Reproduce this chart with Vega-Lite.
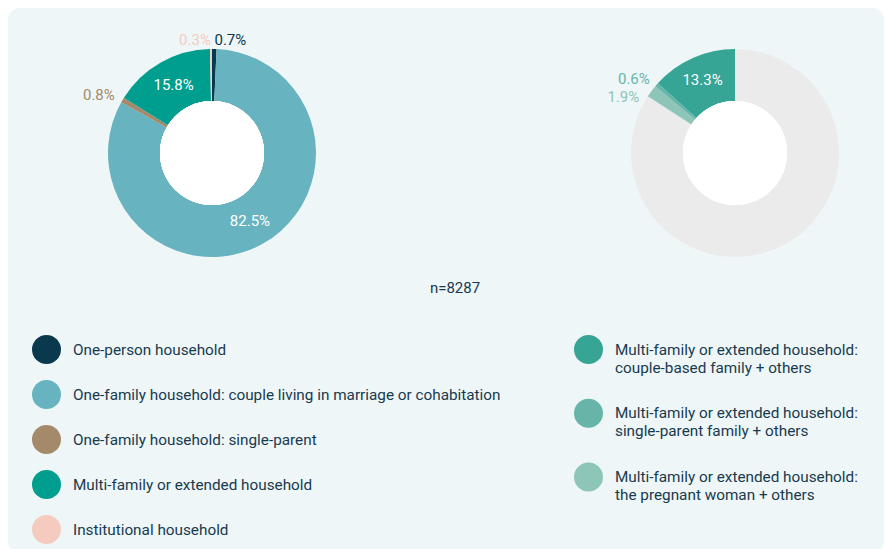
{
  "$schema": "https://vega.github.io/schema/vega-lite/v6.json",
  "autosize": {"type": "none"},
  "padding": {"left": 8, "top": 8, "right": 2, "bottom": 0},
  "width": 876,
  "height": 545,
  "background": "white",
  "config": {
    "view": {"fill": "#eef6f8", "stroke": null, "cornerRadius": 12},
    "font": "Roboto",
    "style": {"guide-label": {"lineHeight": 18}},
    "legend": {
      "orient": "none",
      "title": null,
      "padding": 0,
      "symbolType": "circle",
      "symbolSize": 841,
      "symbolStrokeWidth": 0,
      "symbolOpacity": 1,
      "labelFont": "Roboto",
      "labelFontSize": 15.3,
      "labelColor": "#183a4e",
      "labelLimit": 600
    }
  },
  "title": {
    "text": "n=8287",
    "orient": "top",
    "anchor": "middle",
    "frame": "group",
    "baseline": "middle",
    "offset": 0,
    "dy": 295,
    "dx": 9,
    "font": "Roboto",
    "fontSize": 15,
    "fontWeight": "normal",
    "color": "#183a4e"
  },
  "data": {
    "values": [
      {"panel": "All households", "category": "One-person household", "share": 0.007, "order": 1},
      {"panel": "All households", "category": "One-family household: couple living in marriage or cohabitation", "share": 0.825, "order": 2},
      {"panel": "All households", "category": "One-family household: single-parent", "share": 0.008, "order": 3},
      {"panel": "All households", "category": "Multi-family or extended household", "share": 0.158, "order": 4},
      {"panel": "All households", "category": "Institutional household", "share": 0.003, "order": 5},
      {"panel": "Multi-family breakdown", "category": "Other household types", "share": 0.842, "order": 1},
      {"panel": "Multi-family breakdown", "category": "Multi-family or extended household: the pregnant woman + others", "share": 0.019, "order": 2},
      {"panel": "Multi-family breakdown", "category": "Multi-family or extended household: single-parent family + others", "share": 0.006, "order": 3},
      {"panel": "Multi-family breakdown", "category": "Multi-family or extended household: couple-based family + others", "share": 0.133, "order": 4}
    ]
  },
  "encoding": {
    "x": {"field": "panel", "type": "nominal", "axis": null,
      "scale": {"type": "point", "domain": ["All households", "Multi-family breakdown"], "range": [204, 727], "padding": 0}},
    "y": {"field": "panel", "type": "nominal", "axis": null,
      "scale": {"type": "point", "domain": ["All households", "Multi-family breakdown"], "range": [145, 145], "padding": 0}},
    "theta": {"field": "share", "type": "quantitative", "stack": true},
    "order": {"field": "order", "type": "quantitative"}
  },
  "layer": [
    {
      "transform": [{"filter": "datum.panel === 'All households'"}],
      "mark": {"type": "arc", "outerRadius": 104, "innerRadius": 52, "strokeWidth": 0},
      "encoding": {
        "color": {"field": "category", "type": "nominal",
          "scale": {"domain": ["One-person household", "One-family household: couple living in marriage or cohabitation", "One-family household: single-parent", "Multi-family or extended household", "Institutional household"],
            "range": ["#0a384d", "#67b4c0", "#a4896b", "#009e8e", "#f5cbc0"]},
          "legend": {"legendX": 24, "legendY": 327, "rowPadding": 16, "labelOffset": 12}}
      }
    },
    {
      "transform": [{"filter": "datum.panel === 'All households'"}],
      "mark": {"type": "text", "radius": 78, "align": "center", "baseline": "middle", "fontSize": 15, "color": "white"},
      "encoding": {
        "text": {"condition": {"test": "datum.share >= 0.05", "field": "share", "type": "quantitative", "format": ".1%"}, "value": ""}
      }
    },
    {
      "transform": [{"filter": "datum.panel === 'All households'"}],
      "mark": {"type": "text", "radius": 113, "align": "left", "baseline": "middle", "fontSize": 15},
      "encoding": {
        "text": {"condition": {"test": "datum.category === 'One-person household'", "field": "share", "type": "quantitative", "format": ".1%"}, "value": ""},
        "color": {"field": "category", "type": "nominal", "legend": null,
          "scale": {"domain": ["One-person household", "One-family household: couple living in marriage or cohabitation", "One-family household: single-parent", "Multi-family or extended household", "Institutional household"],
            "range": ["#0a384d", "#67b4c0", "#a4896b", "#009e8e", "#f5cbc0"]}}
      }
    },
    {
      "transform": [{"filter": "datum.panel === 'All households'"}],
      "mark": {"type": "text", "radius": 113, "align": "right", "baseline": "middle", "fontSize": 15},
      "encoding": {
        "text": {"condition": {"test": "datum.category === 'One-family household: single-parent' || datum.category === 'Institutional household'", "field": "share", "type": "quantitative", "format": ".1%"}, "value": ""},
        "color": {"field": "category", "type": "nominal", "legend": null,
          "scale": {"domain": ["One-person household", "One-family household: couple living in marriage or cohabitation", "One-family household: single-parent", "Multi-family or extended household", "Institutional household"],
            "range": ["#0a384d", "#67b4c0", "#a4896b", "#009e8e", "#f5cbc0"]}}
      }
    },
    {
      "transform": [{"filter": "datum.panel === 'Multi-family breakdown'"}],
      "mark": {"type": "arc", "outerRadius": 104, "innerRadius": 52, "strokeWidth": 0},
      "encoding": {
        "color": {"field": "category", "type": "nominal",
          "scale": {"domain": ["Multi-family or extended household: couple-based family + others", "Multi-family or extended household: single-parent family + others", "Multi-family or extended household: the pregnant woman + others", "Other household types"],
            "range": ["#36a595", "#66b5a8", "#8dc5b9", "#ebebeb"]},
          "legend": {"legendX": 566, "legendY": 327, "rowPadding": 22.7, "labelOffset": 12,
            "values": ["Multi-family or extended household: couple-based family + others", "Multi-family or extended household: single-parent family + others", "Multi-family or extended household: the pregnant woman + others"],
            "labelExpr": "[split(datum.label, ': ')[0] + ':', split(datum.label, ': ')[1]]"}}
      }
    },
    {
      "transform": [{"filter": "datum.panel === 'Multi-family breakdown'"}],
      "mark": {"type": "text", "radius": 80, "align": "center", "baseline": "middle", "fontSize": 15, "color": "white"},
      "encoding": {
        "text": {"condition": {"test": "datum.share >= 0.05 && datum.category !== 'Other household types'", "field": "share", "type": "quantitative", "format": ".1%"}, "value": ""}
      }
    },
    {
      "transform": [{"filter": "datum.panel === 'Multi-family breakdown'"}],
      "mark": {"type": "text", "radius": 113, "align": "right", "baseline": "middle", "fontSize": 15},
      "encoding": {
        "text": {"condition": {"test": "datum.category === 'Multi-family or extended household: single-parent family + others'", "field": "share", "type": "quantitative", "format": ".1%"}, "value": ""},
        "color": {"field": "category", "type": "nominal", "legend": null,
          "scale": {"domain": ["Multi-family or extended household: couple-based family + others", "Multi-family or extended household: single-parent family + others", "Multi-family or extended household: the pregnant woman + others", "Other household types"],
            "range": ["#36a595", "#66b5a8", "#8dc5b9", "#ebebeb"]}}
      }
    },
    {
      "transform": [{"filter": "datum.panel === 'Multi-family breakdown'"}],
      "mark": {"type": "text", "radius": 113, "align": "right", "baseline": "middle", "fontSize": 15, "dy": 11, "dx": -5},
      "encoding": {
        "text": {"condition": {"test": "datum.category === 'Multi-family or extended household: the pregnant woman + others'", "field": "share", "type": "quantitative", "format": ".1%"}, "value": ""},
        "color": {"field": "category", "type": "nominal", "legend": null,
          "scale": {"domain": ["Multi-family or extended household: couple-based family + others", "Multi-family or extended household: single-parent family + others", "Multi-family or extended household: the pregnant woman + others", "Other household types"],
            "range": ["#36a595", "#66b5a8", "#8dc5b9", "#ebebeb"]}}
      }
    },
    {
      "mark": {"type": "point", "shape": "circle", "filled": true, "size": 10816, "color": "white", "opacity": 1, "strokeWidth": 0},
      "encoding": {"theta": null, "order": null}
    }
  ],
  "resolve": {
    "scale": {"color": "independent", "theta": "independent"},
    "legend": {"color": "independent"}
  }
}
